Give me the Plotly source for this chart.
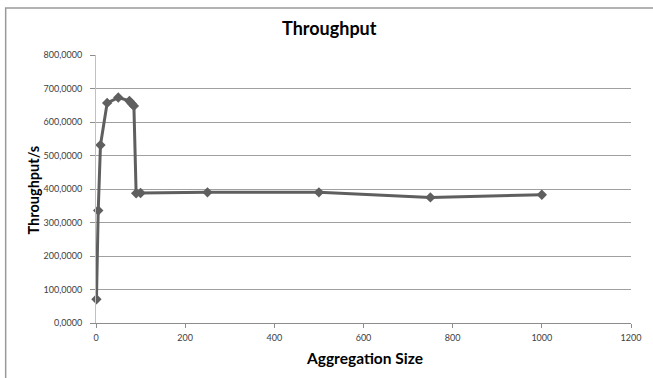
import plotly.graph_objects as go

agg_size = [1, 5, 10, 25, 50, 75, 80, 85, 90, 100, 250, 500, 750, 1000]
throughput = [71000, 336000, 531000, 657000, 673000, 663000, 655000, 648000,
              387000, 388000, 390000, 390000, 375000, 383000]
y_tick_vals = [0, 100000, 200000, 300000, 400000, 500000, 600000, 700000, 800000]
y_tick_text = ["0,0000", "100,0000", "200,0000", "300,0000", "400,0000",
               "500,0000", "600,0000", "700,0000", "800,0000"]
x_tick_vals = [0, 200, 400, 600, 800, 1000, 1200]

W, H = 653, 378
L, R, T, B = 96, 18, 55, 55
pw, ph = W - L - R, H - T - B

fig = go.Figure()
fig.add_trace(go.Scatter(
    x=agg_size, y=throughput, mode="lines+markers",
    line=dict(color="#5f5f5f", width=3),
    marker=dict(symbol="diamond", size=8, color="#5f5f5f"),
    cliponaxis=False,
))

font_fam = "Lato, 'Open Sans', sans-serif"
fig.update_layout(
    width=W, height=H,
    margin=dict(l=L, r=R, t=T, b=B),
    paper_bgcolor="white", plot_bgcolor="white",
    showlegend=False,
    font=dict(family=font_fam, color="#404040", size=9),
    xaxis=dict(
        range=[0, 1200], tickvals=x_tick_vals, showgrid=False, zeroline=False,
        showline=True, linecolor="#8c8c8c", linewidth=1,
        ticks="outside", ticklen=4, tickcolor="#8c8c8c",
        ticklabelstandoff=2,
        tickfont=dict(size=9, color="#404040", family=font_fam),
    ),
    yaxis=dict(
        range=[0, 800000], tickvals=y_tick_vals, ticktext=y_tick_text,
        showgrid=True, gridcolor="#a0a0a0", gridwidth=1, zeroline=False,
        showline=True, linecolor="#c0c0c0", linewidth=1,
        ticks="outside", ticklen=5, tickcolor="#8c8c8c",
        ticklabelstandoff=6,
        tickfont=dict(size=9, color="#404040", family=font_fam),
    ),
    annotations=[
        dict(text="<b>Throughput</b>", xref="paper", yref="paper",
             x=(331.5 - L) / pw, y=(H - B - 28) / ph, showarrow=False,
             xanchor="center", yanchor="middle",
             font=dict(size=18, color="black", family=font_fam)),
        dict(text="<b>Aggregation Size</b>", xref="paper", yref="paper",
             x=(366.5 - L) / pw, y=(H - B - 358) / ph, showarrow=False,
             xanchor="center", yanchor="middle",
             font=dict(size=15.5, color="black", family=font_fam)),
        dict(text="<b>Throughput/s</b>", xref="paper", yref="paper",
             x=(33 - L) / pw, y=(H - B - 190) / ph, showarrow=False,
             textangle=-90, xanchor="center", yanchor="middle",
             font=dict(size=14.5, color="black", family=font_fam)),
    ],
    shapes=[
        dict(type="rect", xref="paper", yref="paper",
             x0=(5 - L) / pw, x1=(W + 10 - L) / pw,
             y0=(H - B - (H + 10)) / ph, y1=(H - B - 8) / ph,
             line=dict(color="#9a9a9a", width=1.5), fillcolor="rgba(0,0,0,0)",
             layer="below"),
    ],
)

fig.write_html(
    "out.html",
    config={"displayModeBar": False},
    post_script="document.body.style.margin='0';document.body.style.overflow='hidden';",
)
